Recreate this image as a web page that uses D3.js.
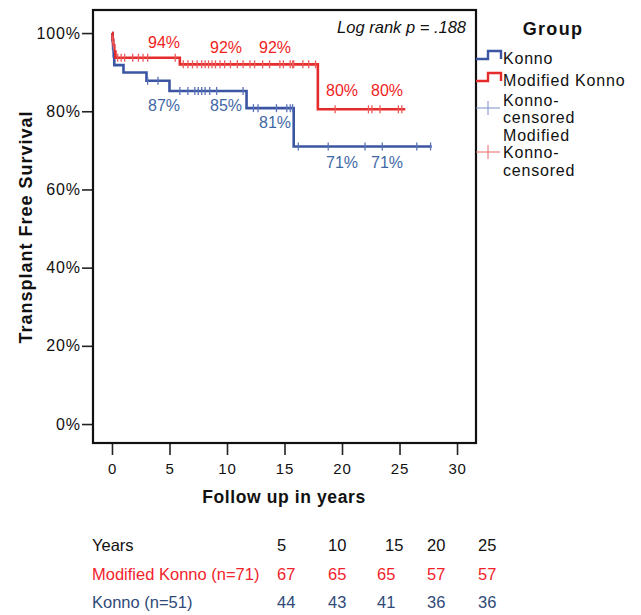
<!DOCTYPE html>
<html>
<head>
<meta charset="utf-8">
<script src="https://cdn.jsdelivr.net/npm/d3@7/dist/d3.min.js"></script>
<style>
  html, body { margin: 0; padding: 0; background: #fff; }
  svg { display: block; font-family: Arial, "Liberation Sans", sans-serif; }
</style>
</head>
<body>
<svg id="chart" width="641" height="615"></svg>
<script>
// ---------- data ----------
const groups = ["Konno", "Modified Konno"];
// step curves: event times (years) and survival (%) after each step
const konnoTimes = [0, 0.05, 0.1, 0.15, 0.2, 1.0, 3.0, 5.0, 11.7, 15.8];
const konnoSurv  = [100, 98.0, 96.0, 94.0, 91.8, 89.9, 87.8, 85.2, 80.8, 71.0];
const konnoEnd = 27.8;
const modTimes = [0, 0.05, 0.1, 0.2, 0.3, 5.9, 17.9];
const modSurv  = [100, 98.4, 96.9, 95.3, 93.7, 92.0, 80.5];
const modEnd = 25.5;
// censored observation times (years)
const konnoCensored = [0.1, 3.1, 4.0, 5.9, 6.6, 7.2, 7.5, 7.8, 8.1, 8.5, 9.1, 11.4,
  12.3, 12.7, 14.3, 15.2, 15.5, 15.7, 16.2, 18.8, 22.0, 23.5, 26.5, 27.7];
const modCensored = [0.05, 0.15, 0.5, 0.8, 1.1, 1.8, 2.3, 2.7, 3.1, 5.5,
  6.2, 6.6, 7.0, 7.4, 7.8, 8.1, 8.4, 8.7, 9.0, 9.4, 9.8, 10.3, 10.9, 11.4, 12.0,
  12.4, 13.1, 13.7, 14.6, 14.9, 15.5, 15.7, 15.8, 16.6, 17.1, 17.7,
  19.4, 22.3, 22.6, 23.3, 24.9, 25.2];
// annotations on curves
const modLabelYears = [5, 10, 15, 20, 25];
const modLabels = ["94%", "92%", "92%", "80%", "80%"];
const konnoLabelYears = [5, 10, 15, 20, 25];
const konnoLabels = ["87%", "85%", "81%", "71%", "71%"];
// axis ticks
const xTicks = [0, 5, 10, 15, 20, 25, 30];
const yTicks = [0, 20, 40, 60, 80, 100];
// number-at-risk table
const tableYears = [5, 10, 15, 20, 25];
const modAtRisk = [67, 65, 65, 57, 57];
const konnoAtRisk = [44, 43, 41, 36, 36];

// ---------- styling ----------
const RED = "#e52b2b", BLUE = "#3b55a3";
const RED_TXT = "#f01e1e", BLUE_TXT = "#3f68a6";
const RED_TAB = "#f2232b", BLUE_TAB = "#2f4a78";
const FONT = "Arial, 'Liberation Sans', sans-serif";

const svg = d3.select("#chart");
const L = 93, R = 476, T = 10, B = 443;
const x = d3.scaleLinear().domain([-1.65, 31.65]).range([L, R]);
const y = d3.scaleLinear().domain([-4.85, 105.9]).range([B, T]);

// axes
const xAxis = svg.append("g").attr("transform", `translate(0,${B})`)
  .call(d3.axisBottom(x).tickValues(xTicks).tickSize(12).tickPadding(5));
const yAxis = svg.append("g").attr("transform", `translate(${L},0)`)
  .call(d3.axisLeft(y).tickValues(yTicks).tickSize(11).tickPadding(1).tickFormat(d => d + "%"));
[xAxis, yAxis].forEach(a => {
  a.select(".domain").remove();
  a.selectAll("line").attr("stroke", "#222").attr("stroke-width", 1.6);
  a.selectAll("text").attr("fill", "#111").style("font-family", FONT);
});
xAxis.selectAll("text").style("font-size", "15px").style("letter-spacing", "0.8px").attr("dy", "0.95em");
yAxis.selectAll("text").style("font-size", "16px").style("letter-spacing", "0.9px");

// frame
svg.append("rect").attr("x", L).attr("y", T).attr("width", R - L).attr("height", B - T)
  .attr("fill", "none").attr("stroke", "#111").attr("stroke-width", 2.2);

function stepAt(times, surv, t) {
  let s = surv[0];
  for (let i = 0; i < times.length; i++) if (times[i] <= t) s = surv[i];
  return s;
}
function drawCurve(times, surv, end, color) {
  const pts = times.map((t, i) => [t, surv[i]]);
  pts.push([end, surv[surv.length - 1]]);
  const line = d3.line().x(d => x(d[0])).y(d => y(d[1])).curve(d3.curveStepAfter);
  svg.append("path").datum(pts).attr("d", line).attr("fill", "none")
    .attr("stroke", color).attr("stroke-width", 2.6);
}
function drawCensors(times, surv, cens, color) {
  svg.append("g").selectAll("line").data(cens).join("line")
    .attr("x1", d => x(d)).attr("x2", d => x(d))
    .attr("y1", d => y(stepAt(times, surv, d)) - 4)
    .attr("y2", d => y(stepAt(times, surv, d)) + 4)
    .attr("stroke", color).attr("stroke-width", 1.3);
}
drawCurve(konnoTimes, konnoSurv, konnoEnd, BLUE);
drawCurve(modTimes, modSurv, modEnd, RED);
drawCensors(konnoTimes, konnoSurv, konnoCensored, "#5a73b8");
drawCensors(modTimes, modSurv, modCensored, "#ec5a5a");

// curve labels
const labX = d3.scaleOrdinal().domain(modLabelYears).range([164, 226, 275, 342, 387]);
svg.append("g").selectAll("text").data(modLabels).join("text")
  .attr("x", (d, i) => labX(modLabelYears[i]))
  .attr("y", (d, i) => i === 0 ? 48 : (i < 3 ? 53 : 96))
  .attr("text-anchor", "middle").attr("fill", RED_TXT).style("font-size", "16px").text(d => d);
svg.append("g").selectAll("text").data(konnoLabels).join("text")
  .attr("x", (d, i) => labX(konnoLabelYears[i]))
  .attr("y", (d, i) => i < 2 ? 111 : (i === 2 ? 128 : 168))
  .attr("text-anchor", "middle").attr("fill", BLUE_TXT).style("font-size", "16px").text(d => d);

// log rank
svg.append("text").attr("x", 466).attr("y", 33).attr("text-anchor", "end")
  .style("font-size", "16.5px").style("font-style", "italic").attr("fill", "#111")
  .text("Log rank p = .188");

// axis titles
svg.append("text").attr("transform", "translate(32,227) rotate(-90)")
  .attr("text-anchor", "middle").style("font-size", "18px").style("font-weight", "bold")
  .style("letter-spacing", "1px").attr("fill", "#111").text("Transplant Free Survival");
svg.append("text").attr("x", 284).attr("y", 503).attr("text-anchor", "middle")
  .style("font-size", "17.5px").style("font-weight", "bold").style("letter-spacing", "0.6px")
  .attr("fill", "#111").text("Follow up in years");

// legend
const lg = svg.append("g");
lg.append("text").attr("x", 553).attr("y", 35).attr("text-anchor", "middle")
  .style("font-size", "18px").style("font-weight", "bold").style("letter-spacing", "1.3px")
  .attr("fill", "#111").text("Group");
function stepIcon(cy, color) {
  lg.append("path").attr("d", `M476,${cy + 4} H488 V${cy - 4} H501 V${cy + 4}`)
    .attr("fill", "none").attr("stroke", color).attr("stroke-width", 2.4);
}
stepIcon(55, BLUE);
stepIcon(77, RED);
function crossIcon(cx, cy, color) {
  lg.append("line").attr("x1", cx - 12).attr("x2", cx + 12).attr("y1", cy).attr("y2", cy)
    .attr("stroke", color).attr("stroke-width", 1);
  lg.append("line").attr("x1", cx).attr("x2", cx).attr("y1", cy - 7).attr("y2", cy + 7)
    .attr("stroke", color).attr("stroke-width", 1);
}
crossIcon(488, 108, "#7a8ec8");
crossIcon(488, 152, "#ec6a6a");
const legTexts = [["Konno", 64], ["Modified Konno", 86], ["Konno-", 106], ["censored", 123],
  ["Modified", 141], ["Konno-", 158], ["censored", 176]];
lg.selectAll("text.lt").data(legTexts).join("text").attr("class", "lt")
  .attr("x", 503).attr("y", d => d[1]).style("font-size", "16px").style("letter-spacing", "0.8px")
  .attr("fill", "#111").text(d => d[0]);

// at-risk table
const colX = d3.scaleOrdinal().domain(tableYears).range([277, 328, 377, 427, 478]);
const tb = svg.append("g").style("font-size", "16.5px");
tb.append("text").attr("x", 92).attr("y", 551).attr("fill", "#111").text("Years");
tb.append("text").attr("x", 92).attr("y", 580).attr("fill", RED_TAB).text("Modified Konno (n=71)");
tb.append("text").attr("x", 92).attr("y", 608).attr("fill", BLUE_TAB).text("Konno (n=51)");
tb.selectAll("text.hy").data(tableYears).join("text").attr("class", "hy")
  .attr("x", d => colX(d) + (d === 15 ? 8 : 0)).attr("y", 551).attr("fill", "#111").text(d => d);
tb.selectAll("text.mr").data(modAtRisk).join("text").attr("class", "mr")
  .attr("x", (d, i) => colX(tableYears[i])).attr("y", 580).attr("fill", RED_TAB).text(d => d);
tb.selectAll("text.kr").data(konnoAtRisk).join("text").attr("class", "kr")
  .attr("x", (d, i) => colX(tableYears[i])).attr("y", 608).attr("fill", BLUE_TAB).text(d => d);
</script>
</body>
</html>
